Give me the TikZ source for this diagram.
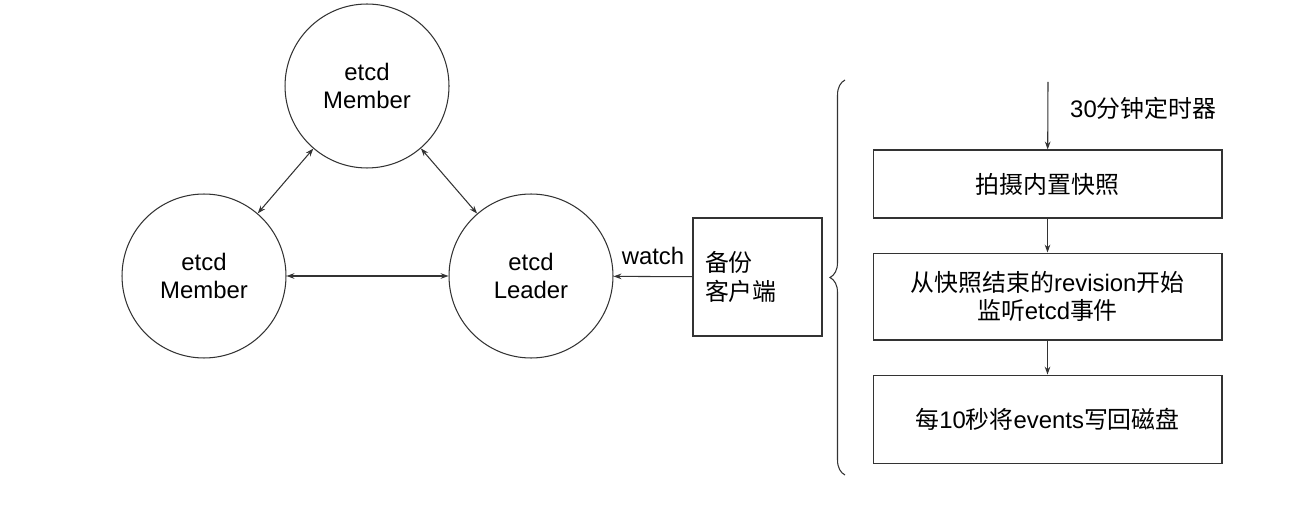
\documentclass[tikz,border=0pt]{standalone}
\usepackage{fontspec}
\setmainfont{Liberation Sans}
\newfontfamily\cjk{Noto Sans CJK SC}
\usetikzlibrary{positioning,arrows.meta,decorations.pathreplacing}
\usepackage{xcolor}
\definecolor{linegray}{rgb}{0.2, 0.2, 0.2}
\newcommand{\zh}[1]{{\cjk #1}}

\begin{document}
\begin{tikzpicture}[x=0.02cm,y=-0.02cm,>={Stealth[length=4.5pt,width=3.2pt]},
        font=\fontsize{13.6}{16}\selectfont]
        \tikzstyle{member}=[circle,draw=linegray,line width=0.6pt,minimum size=3.28cm,inner sep=0pt,align=center]
        \tikzstyle{stepbox}=[draw=linegray,line width=0.6pt,minimum width=6.98cm,align=center]
        \tikzstyle{link}=[linegray,line width=0.6pt]
        \useasboundingbox (0,0) rectangle (1310,506);

        % etcd cluster
        \node (top)[member] at (367,86) {etcd\\Member};
        \node (left)[member] at (204,276) {etcd\\Member};
        \node (leader)[member] at (531,276) {etcd\\Leader};

        \draw[link,<->] (top) -- (left);
        \draw[link,<->] (top) -- (leader);
        \draw[link,<->] (left) -- (leader);

        % backup client
        \node (client)[draw=linegray,line width=0.6pt,minimum height=2.36cm,text width=2.1cm,
            inner xsep=0.24cm,align=left] at (757.5,277) {\zh{备份}\\\zh{客户端}};
        \draw[link,->] (client) -- (leader) node[midway,above=3pt,black] {watch};

        % brace
        \coordinate (bracebot) at (845,475);
        \coordinate (bracetop) at (845,80);
        \draw[link,decorate,decoration={brace,amplitude=0.3cm}] (bracebot) -- (bracetop);

        % backup steps
        \coordinate (timer) at (1048,82);
        \node (snap)[stepbox,minimum height=1.36cm] at (1047.5,184) {\zh{拍摄内置快照}};
        \node (watchev)[stepbox,minimum height=1.74cm,below=0.68cm of snap]
            {\zh{从快照结束的}revision\zh{开始}\\\zh{监听}etcd\zh{事件}};
        \node (flush)[stepbox,minimum height=1.76cm,below=0.68cm of watchev]
            {\zh{每}10\zh{秒将}events\zh{写回磁盘}};
        \node (timerlabel)[anchor=west] at (1064,108) {30\zh{分钟定时器}};

        \draw[link,->] (timer) -- (snap);
        \draw[link,->] (snap) -- (watchev);
        \draw[link,->] (watchev) -- (flush);
    \end{tikzpicture}
\end{document}
